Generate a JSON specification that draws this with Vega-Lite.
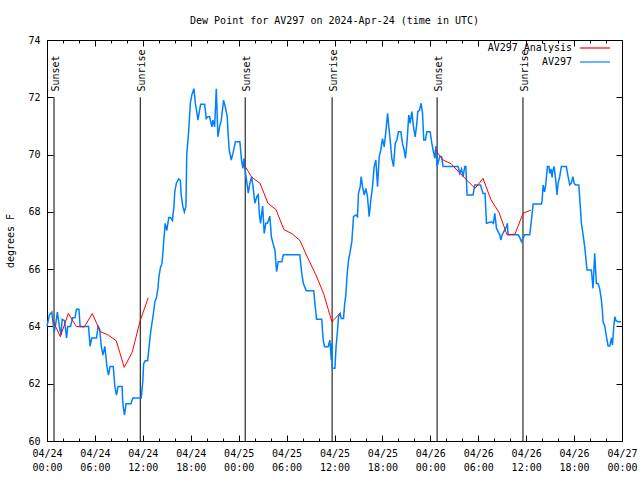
{
  "$schema": "https://vega.github.io/schema/vega-lite/v6.json",
  "width": 575,
  "height": 401,
  "autosize": {"type": "none"},
  "padding": {"left": 47, "top": 40, "right": 18, "bottom": 39},
  "background": "white",
  "title": {"text": "Dew Point for AV297 on 2024-Apr-24 (time in UTC)", "font": "DejaVu Sans Mono", "fontSize": 10, "fontWeight": "normal", "color": "black", "anchor": "middle", "frame": "group", "baseline": "alphabetic", "offset": 1},
  "config": {
    "view": {"stroke": "black", "strokeWidth": 1},
    "axis": {"domain": false, "grid": false, "labelFont": "DejaVu Sans Mono", "labelFontSize": 10, "labelColor": "black", "tickColor": "black", "tickWidth": 1, "titleFont": "DejaVu Sans Mono", "titleFontSize": 10, "titleFontWeight": "normal", "titleColor": "black"},
    "legend": {"labelFont": "DejaVu Sans Mono", "labelFontSize": 10, "labelColor": "black"}
  },
  "datasets": {
    "events": [
      {"hour": 0.88, "label": "Sunset"}, {"hour": 11.68, "label": "Sunrise"},
      {"hour": 24.82, "label": "Sunset"}, {"hour": 35.7, "label": "Sunrise"},
      {"hour": 48.85, "label": "Sunset"}, {"hour": 59.6, "label": "Sunrise"}
    ],
    "analysis": [
      {"hour": 0.67, "dewpoint": 64.25, "seg": 1}, {"hour": 1.67, "dewpoint": 63.64, "seg": 1}, {"hour": 2.67, "dewpoint": 64.45, "seg": 1},
      {"hour": 3.67, "dewpoint": 64.0, "seg": 1}, {"hour": 4.67, "dewpoint": 63.98, "seg": 1}, {"hour": 5.67, "dewpoint": 64.45, "seg": 1},
      {"hour": 6.67, "dewpoint": 63.82, "seg": 1}, {"hour": 7.67, "dewpoint": 63.7, "seg": 1}, {"hour": 8.67, "dewpoint": 63.5, "seg": 1},
      {"hour": 9.67, "dewpoint": 62.57, "seg": 1}, {"hour": 10.67, "dewpoint": 63.1, "seg": 1}, {"hour": 11.67, "dewpoint": 64.2, "seg": 1},
      {"hour": 12.67, "dewpoint": 65.0, "seg": 1},
      {"hour": 24.67, "dewpoint": 69.65, "seg": 2}, {"hour": 25.67, "dewpoint": 69.2, "seg": 2}, {"hour": 26.67, "dewpoint": 69.0, "seg": 2},
      {"hour": 27.67, "dewpoint": 68.3, "seg": 2}, {"hour": 28.67, "dewpoint": 68.08, "seg": 2}, {"hour": 29.67, "dewpoint": 67.38, "seg": 2},
      {"hour": 30.67, "dewpoint": 67.24, "seg": 2}, {"hour": 31.67, "dewpoint": 67.0, "seg": 2}, {"hour": 32.67, "dewpoint": 66.38, "seg": 2},
      {"hour": 33.67, "dewpoint": 65.8, "seg": 2}, {"hour": 34.67, "dewpoint": 65.12, "seg": 2}, {"hour": 35.67, "dewpoint": 64.16, "seg": 2},
      {"hour": 36.67, "dewpoint": 64.46, "seg": 2},
      {"hour": 48.6, "dewpoint": 70.16, "seg": 3}, {"hour": 49.6, "dewpoint": 69.81, "seg": 3}, {"hour": 50.6, "dewpoint": 69.68, "seg": 3},
      {"hour": 51.6, "dewpoint": 69.38, "seg": 3}, {"hour": 52.6, "dewpoint": 69.1, "seg": 3}, {"hour": 53.6, "dewpoint": 68.82, "seg": 3},
      {"hour": 54.6, "dewpoint": 69.17, "seg": 3}, {"hour": 55.6, "dewpoint": 68.42, "seg": 3}, {"hour": 56.6, "dewpoint": 67.98, "seg": 3},
      {"hour": 57.6, "dewpoint": 67.2, "seg": 3}, {"hour": 58.6, "dewpoint": 67.22, "seg": 3}, {"hour": 59.6, "dewpoint": 67.95, "seg": 3},
      {"hour": 60.6, "dewpoint": 68.06, "seg": 3}
    ],
    "observed": [
      {"hour": 0, "dewpoint": 64.0}, {"hour": 0.3, "dewpoint": 64.4}, {"hour": 0.6, "dewpoint": 64.5}, {"hour": 0.9, "dewpoint": 63.8},
      {"hour": 1.1, "dewpoint": 64.1}, {"hour": 1.3, "dewpoint": 64.5}, {"hour": 1.55, "dewpoint": 64.0}, {"hour": 1.75, "dewpoint": 63.7},
      {"hour": 1.9, "dewpoint": 64.25}, {"hour": 2.2, "dewpoint": 64.2}, {"hour": 2.45, "dewpoint": 63.6}, {"hour": 2.6, "dewpoint": 64.0},
      {"hour": 2.95, "dewpoint": 64.0}, {"hour": 3.2, "dewpoint": 64.3}, {"hour": 3.5, "dewpoint": 64.3}, {"hour": 3.7, "dewpoint": 64.6},
      {"hour": 4.0, "dewpoint": 64.6}, {"hour": 4.15, "dewpoint": 64.0}, {"hour": 5.2, "dewpoint": 64.0}, {"hour": 5.4, "dewpoint": 63.3},
      {"hour": 5.6, "dewpoint": 63.6}, {"hour": 6.2, "dewpoint": 63.6}, {"hour": 6.4, "dewpoint": 64.0}, {"hour": 6.6, "dewpoint": 63.9},
      {"hour": 6.8, "dewpoint": 63.3}, {"hour": 7.0, "dewpoint": 63.0}, {"hour": 7.25, "dewpoint": 63.3}, {"hour": 7.5, "dewpoint": 62.6},
      {"hour": 7.7, "dewpoint": 62.3}, {"hour": 7.9, "dewpoint": 62.6}, {"hour": 8.3, "dewpoint": 62.6}, {"hour": 8.5, "dewpoint": 61.9},
      {"hour": 8.7, "dewpoint": 61.6}, {"hour": 8.9, "dewpoint": 61.9}, {"hour": 9.4, "dewpoint": 61.9}, {"hour": 9.5, "dewpoint": 61.3},
      {"hour": 9.7, "dewpoint": 60.9}, {"hour": 9.9, "dewpoint": 61.3}, {"hour": 10.5, "dewpoint": 61.3}, {"hour": 10.75, "dewpoint": 61.5},
      {"hour": 11.8, "dewpoint": 61.5}, {"hour": 12.0, "dewpoint": 62.1}, {"hour": 12.1, "dewpoint": 62.7}, {"hour": 12.3, "dewpoint": 62.8},
      {"hour": 12.6, "dewpoint": 62.8}, {"hour": 12.9, "dewpoint": 63.6}, {"hour": 13.0, "dewpoint": 63.85}, {"hour": 13.3, "dewpoint": 64.4},
      {"hour": 13.5, "dewpoint": 64.85}, {"hour": 13.7, "dewpoint": 65.0}, {"hour": 13.9, "dewpoint": 65.35}, {"hour": 14.0, "dewpoint": 65.7},
      {"hour": 14.2, "dewpoint": 66.05}, {"hour": 14.4, "dewpoint": 66.2}, {"hour": 14.6, "dewpoint": 66.9}, {"hour": 14.8, "dewpoint": 67.6},
      {"hour": 15.0, "dewpoint": 67.35}, {"hour": 15.25, "dewpoint": 67.8}, {"hour": 15.45, "dewpoint": 67.8}, {"hour": 15.7, "dewpoint": 67.7},
      {"hour": 15.9, "dewpoint": 68.2}, {"hour": 16.0, "dewpoint": 68.7}, {"hour": 16.2, "dewpoint": 69.0}, {"hour": 16.5, "dewpoint": 69.15},
      {"hour": 16.7, "dewpoint": 69.1}, {"hour": 16.8, "dewpoint": 68.6}, {"hour": 17.0, "dewpoint": 68.2}, {"hour": 17.2, "dewpoint": 68.0},
      {"hour": 17.4, "dewpoint": 68.2}, {"hour": 17.5, "dewpoint": 70.0}, {"hour": 17.75, "dewpoint": 70.85}, {"hour": 17.95, "dewpoint": 71.8},
      {"hour": 18.15, "dewpoint": 72.1}, {"hour": 18.4, "dewpoint": 72.3}, {"hour": 18.57, "dewpoint": 71.8}, {"hour": 18.78, "dewpoint": 71.44},
      {"hour": 18.9, "dewpoint": 71.2}, {"hour": 19.11, "dewpoint": 71.55}, {"hour": 19.24, "dewpoint": 71.76}, {"hour": 19.74, "dewpoint": 71.76},
      {"hour": 19.94, "dewpoint": 71.26}, {"hour": 20.15, "dewpoint": 71.32}, {"hour": 20.36, "dewpoint": 71.32}, {"hour": 20.65, "dewpoint": 70.97},
      {"hour": 20.78, "dewpoint": 71.2}, {"hour": 20.99, "dewpoint": 70.97}, {"hour": 21.2, "dewpoint": 72.3}, {"hour": 21.4, "dewpoint": 70.62},
      {"hour": 21.61, "dewpoint": 70.97}, {"hour": 21.82, "dewpoint": 71.2}, {"hour": 22.11, "dewpoint": 71.9}, {"hour": 22.32, "dewpoint": 71.67},
      {"hour": 22.57, "dewpoint": 71.32}, {"hour": 22.66, "dewpoint": 70.8}, {"hour": 22.82, "dewpoint": 70.16}, {"hour": 23.07, "dewpoint": 69.81},
      {"hour": 23.28, "dewpoint": 70.04}, {"hour": 23.6, "dewpoint": 70.45}, {"hour": 24.15, "dewpoint": 70.45}, {"hour": 24.36, "dewpoint": 69.8},
      {"hour": 24.53, "dewpoint": 69.52}, {"hour": 24.66, "dewpoint": 69.87}, {"hour": 24.8, "dewpoint": 69.46}, {"hour": 24.99, "dewpoint": 69.11},
      {"hour": 25.2, "dewpoint": 68.65}, {"hour": 25.4, "dewpoint": 68.99}, {"hour": 25.62, "dewpoint": 69.23}, {"hour": 25.8, "dewpoint": 68.88},
      {"hour": 26.03, "dewpoint": 68.3}, {"hour": 26.3, "dewpoint": 68.55}, {"hour": 26.45, "dewpoint": 68.6}, {"hour": 26.6, "dewpoint": 67.9},
      {"hour": 26.74, "dewpoint": 67.6}, {"hour": 27.0, "dewpoint": 68.2}, {"hour": 27.2, "dewpoint": 67.25}, {"hour": 27.4, "dewpoint": 67.6},
      {"hour": 27.6, "dewpoint": 67.6}, {"hour": 27.9, "dewpoint": 67.85}, {"hour": 28.1, "dewpoint": 67.12}, {"hour": 28.3, "dewpoint": 66.9},
      {"hour": 28.54, "dewpoint": 66.67}, {"hour": 28.75, "dewpoint": 65.91}, {"hour": 28.95, "dewpoint": 66.26}, {"hour": 29.4, "dewpoint": 66.26},
      {"hour": 29.6, "dewpoint": 66.5}, {"hour": 31.65, "dewpoint": 66.5}, {"hour": 31.9, "dewpoint": 65.85}, {"hour": 32.1, "dewpoint": 65.5},
      {"hour": 32.46, "dewpoint": 65.25}, {"hour": 33.4, "dewpoint": 65.25}, {"hour": 33.55, "dewpoint": 64.8}, {"hour": 33.75, "dewpoint": 64.25},
      {"hour": 34.4, "dewpoint": 64.25}, {"hour": 34.58, "dewpoint": 63.52}, {"hour": 34.75, "dewpoint": 63.29}, {"hour": 35.2, "dewpoint": 63.29},
      {"hour": 35.42, "dewpoint": 63.52}, {"hour": 35.6, "dewpoint": 62.83}, {"hour": 35.65, "dewpoint": 63.4}, {"hour": 35.72, "dewpoint": 62.55},
      {"hour": 36.05, "dewpoint": 62.54}, {"hour": 36.2, "dewpoint": 63.3}, {"hour": 36.35, "dewpoint": 63.76}, {"hour": 36.5, "dewpoint": 64.34},
      {"hour": 36.71, "dewpoint": 64.45}, {"hour": 36.84, "dewpoint": 64.28}, {"hour": 37.13, "dewpoint": 64.28}, {"hour": 37.26, "dewpoint": 64.75},
      {"hour": 37.42, "dewpoint": 65.09}, {"hour": 37.59, "dewpoint": 65.85}, {"hour": 37.76, "dewpoint": 66.32}, {"hour": 37.96, "dewpoint": 66.61},
      {"hour": 38.17, "dewpoint": 66.96}, {"hour": 38.38, "dewpoint": 67.83}, {"hour": 38.67, "dewpoint": 67.89}, {"hour": 38.88, "dewpoint": 67.83},
      {"hour": 39.0, "dewpoint": 68.64}, {"hour": 39.22, "dewpoint": 68.88}, {"hour": 39.34, "dewpoint": 69.23}, {"hour": 39.51, "dewpoint": 68.88},
      {"hour": 39.72, "dewpoint": 68.59}, {"hour": 39.93, "dewpoint": 68.82}, {"hour": 40.13, "dewpoint": 68.53}, {"hour": 40.34, "dewpoint": 67.83},
      {"hour": 40.55, "dewpoint": 68.41}, {"hour": 40.76, "dewpoint": 68.88}, {"hour": 40.97, "dewpoint": 69.58}, {"hour": 41.18, "dewpoint": 69.81},
      {"hour": 41.39, "dewpoint": 68.88}, {"hour": 41.59, "dewpoint": 69.92}, {"hour": 41.8, "dewpoint": 70.16}, {"hour": 42.01, "dewpoint": 70.56},
      {"hour": 42.22, "dewpoint": 70.27}, {"hour": 42.43, "dewpoint": 70.8}, {"hour": 42.65, "dewpoint": 71.44}, {"hour": 42.8, "dewpoint": 70.97},
      {"hour": 42.97, "dewpoint": 70.51}, {"hour": 43.18, "dewpoint": 69.87}, {"hour": 43.39, "dewpoint": 69.58}, {"hour": 43.6, "dewpoint": 70.39},
      {"hour": 43.81, "dewpoint": 70.51}, {"hour": 44.01, "dewpoint": 70.8}, {"hour": 44.31, "dewpoint": 70.8}, {"hour": 44.51, "dewpoint": 70.39},
      {"hour": 44.72, "dewpoint": 70.16}, {"hour": 44.89, "dewpoint": 69.87}, {"hour": 45.1, "dewpoint": 70.51}, {"hour": 45.3, "dewpoint": 71.38},
      {"hour": 45.47, "dewpoint": 71.09}, {"hour": 45.68, "dewpoint": 71.5}, {"hour": 45.89, "dewpoint": 70.97}, {"hour": 46.1, "dewpoint": 70.62},
      {"hour": 46.31, "dewpoint": 71.09}, {"hour": 46.43, "dewpoint": 71.5}, {"hour": 46.64, "dewpoint": 71.55}, {"hour": 46.85, "dewpoint": 71.79},
      {"hour": 47.02, "dewpoint": 71.44}, {"hour": 47.18, "dewpoint": 70.51}, {"hour": 47.39, "dewpoint": 70.51}, {"hour": 47.56, "dewpoint": 70.8},
      {"hour": 47.98, "dewpoint": 70.8}, {"hour": 48.19, "dewpoint": 70.39}, {"hour": 48.35, "dewpoint": 70.16}, {"hour": 48.56, "dewpoint": 69.87},
      {"hour": 48.7, "dewpoint": 70.3}, {"hour": 48.85, "dewpoint": 69.58}, {"hour": 49.19, "dewpoint": 69.93}, {"hour": 49.4, "dewpoint": 69.93},
      {"hour": 49.6, "dewpoint": 69.58}, {"hour": 51.06, "dewpoint": 69.58}, {"hour": 51.48, "dewpoint": 69.58}, {"hour": 51.69, "dewpoint": 69.34},
      {"hour": 51.9, "dewpoint": 69.5}, {"hour": 52.1, "dewpoint": 69.23}, {"hour": 52.31, "dewpoint": 69.58}, {"hour": 52.45, "dewpoint": 69.58},
      {"hour": 52.6, "dewpoint": 68.59}, {"hour": 53.35, "dewpoint": 68.59}, {"hour": 53.57, "dewpoint": 68.94}, {"hour": 54.28, "dewpoint": 68.94},
      {"hour": 54.6, "dewpoint": 68.64}, {"hour": 54.85, "dewpoint": 68.64}, {"hour": 55.03, "dewpoint": 67.6}, {"hour": 55.66, "dewpoint": 67.65},
      {"hour": 55.9, "dewpoint": 67.6}, {"hour": 56.07, "dewpoint": 67.95}, {"hour": 56.28, "dewpoint": 67.43}, {"hour": 56.5, "dewpoint": 67.3},
      {"hour": 56.7, "dewpoint": 67.2}, {"hour": 56.82, "dewpoint": 67.02}, {"hour": 57.0, "dewpoint": 67.2}, {"hour": 57.32, "dewpoint": 67.37},
      {"hour": 57.53, "dewpoint": 67.48}, {"hour": 57.65, "dewpoint": 67.6}, {"hour": 57.74, "dewpoint": 67.2}, {"hour": 59.0, "dewpoint": 67.2},
      {"hour": 59.2, "dewpoint": 67.1}, {"hour": 59.41, "dewpoint": 66.96}, {"hour": 59.62, "dewpoint": 67.08}, {"hour": 59.82, "dewpoint": 67.2},
      {"hour": 60.45, "dewpoint": 67.2}, {"hour": 60.66, "dewpoint": 67.72}, {"hour": 60.87, "dewpoint": 68.27}, {"hour": 61.92, "dewpoint": 68.27},
      {"hour": 62.0, "dewpoint": 68.4}, {"hour": 62.12, "dewpoint": 68.94}, {"hour": 62.3, "dewpoint": 68.7}, {"hour": 62.45, "dewpoint": 68.94},
      {"hour": 62.66, "dewpoint": 69.58}, {"hour": 62.85, "dewpoint": 69.58}, {"hour": 62.95, "dewpoint": 69.34}, {"hour": 63.1, "dewpoint": 69.5},
      {"hour": 63.25, "dewpoint": 69.2}, {"hour": 63.35, "dewpoint": 69.45}, {"hour": 63.5, "dewpoint": 69.58}, {"hour": 63.7, "dewpoint": 69.1},
      {"hour": 63.87, "dewpoint": 68.59}, {"hour": 64.0, "dewpoint": 69.0}, {"hour": 64.2, "dewpoint": 69.23}, {"hour": 64.41, "dewpoint": 69.58},
      {"hour": 65.03, "dewpoint": 69.58}, {"hour": 65.25, "dewpoint": 69.23}, {"hour": 65.46, "dewpoint": 68.94}, {"hour": 65.65, "dewpoint": 69.0},
      {"hour": 65.85, "dewpoint": 69.23}, {"hour": 66.0, "dewpoint": 69.0}, {"hour": 66.17, "dewpoint": 68.94}, {"hour": 66.59, "dewpoint": 68.94},
      {"hour": 66.75, "dewpoint": 68.3}, {"hour": 66.92, "dewpoint": 67.6}, {"hour": 67.13, "dewpoint": 67.2}, {"hour": 67.33, "dewpoint": 66.78},
      {"hour": 67.46, "dewpoint": 66.43}, {"hour": 67.62, "dewpoint": 65.97}, {"hour": 68.16, "dewpoint": 65.97}, {"hour": 68.28, "dewpoint": 65.62},
      {"hour": 68.37, "dewpoint": 65.33}, {"hour": 68.58, "dewpoint": 66.55}, {"hour": 68.79, "dewpoint": 65.5}, {"hour": 69.0, "dewpoint": 65.5},
      {"hour": 69.2, "dewpoint": 65.33}, {"hour": 69.42, "dewpoint": 64.92}, {"hour": 69.55, "dewpoint": 64.53}, {"hour": 69.63, "dewpoint": 64.16},
      {"hour": 69.85, "dewpoint": 64.0}, {"hour": 70.05, "dewpoint": 63.64}, {"hour": 70.26, "dewpoint": 63.32}, {"hour": 70.47, "dewpoint": 63.32},
      {"hour": 70.68, "dewpoint": 63.6}, {"hour": 70.8, "dewpoint": 63.35}, {"hour": 70.97, "dewpoint": 63.99}, {"hour": 71.1, "dewpoint": 64.34},
      {"hour": 71.25, "dewpoint": 64.2}, {"hour": 71.5, "dewpoint": 64.16}, {"hour": 71.9, "dewpoint": 64.16}
    ]
  },
  "resolve": {"axis": {"x": "independent", "y": "independent"}},
  "layer": [
    {
      "data": {"name": "events"},
      "mark": {"type": "rule", "color": "black", "strokeWidth": 1},
      "encoding": {
        "x": {"field": "hour", "type": "quantitative", "scale": {"domain": [0, 72], "nice": false, "zero": false},
          "axis": {"orient": "bottom", "title": null, "values": [0, 6, 12, 18, 24, 30, 36, 42, 48, 54, 60, 66, 72], "tickSize": -6, "labelPadding": 13, "labelBaseline": "top", "labelLineHeight": 14, "labelFlush": false, "labelOverlap": false, "labelBound": false,
            "labelExpr": "['04/' + (24 + floor(datum.value / 24)), (datum.value % 24 < 10 ? '0' : '') + (datum.value % 24) + ':00']"}},
        "y": {"datum": 60, "type": "quantitative", "scale": {"domain": [60, 74], "nice": false, "zero": false},
          "axis": {"orient": "left", "title": "degrees F", "values": [60, 62, 64, 66, 68, 70, 72, 74], "tickSize": -6, "labelPadding": 13, "labelFlush": false, "labelOverlap": false, "titlePadding": 12}},
        "y2": {"datum": 72}
      }
    },
    {
      "data": {"name": "events"},
      "mark": {"type": "text", "angle": 270, "align": "left", "baseline": "middle", "font": "DejaVu Sans Mono", "fontSize": 10, "color": "black", "dy": 2},
      "encoding": {
        "x": {"field": "hour", "type": "quantitative", "scale": {"domain": [0, 72], "nice": false, "zero": false},
          "axis": {"orient": "top", "title": null, "values": [0, 6, 12, 18, 24, 30, 36, 42, 48, 54, 60, 66, 72], "tickSize": -6, "labels": false}},
        "y": {"datum": 72.2, "type": "quantitative", "scale": {"domain": [60, 74], "nice": false, "zero": false},
          "axis": {"orient": "right", "title": null, "values": [60, 62, 64, 66, 68, 70, 72, 74], "tickSize": -6, "labels": false}},
        "text": {"field": "label"}
      }
    },
    {
      "data": {"name": "observed"},
      "mark": {"type": "line", "strokeWidth": 1.5, "interpolate": "linear"},
      "encoding": {
        "x": {"field": "hour", "type": "quantitative", "scale": {"domain": [0, 72], "nice": false, "zero": false},
          "axis": {"orient": "bottom", "title": null, "values": [2, 4, 8, 10, 14, 16, 20, 22, 26, 28, 32, 34, 38, 40, 44, 46, 50, 52, 56, 58, 62, 64, 68, 70], "tickSize": -3, "labels": false}},
        "y": {"field": "dewpoint", "type": "quantitative", "scale": {"domain": [60, 74], "nice": false, "zero": false}, "axis": null},
        "color": {"datum": "AV297", "scale": {"domain": ["AV297 Analysis", "AV297"], "range": ["#ff0000", "#0080ff"]},
          "legend": {"title": null, "orient": "none", "legendX": 542, "legendY": 2, "padding": 0, "symbolType": "M-3,0H3", "symbolSize": 100, "symbolStrokeWidth": 1.2, "labelAlign": "right", "labelOffset": -29, "rowPadding": 3}}
      }
    },
    {
      "data": {"name": "analysis"},
      "mark": {"type": "line", "strokeWidth": 1, "interpolate": "linear"},
      "encoding": {
        "x": {"field": "hour", "type": "quantitative", "scale": {"domain": [0, 72], "nice": false, "zero": false},
          "axis": {"orient": "top", "title": null, "values": [2, 4, 8, 10, 14, 16, 20, 22, 26, 28, 32, 34, 38, 40, 44, 46, 50, 52, 56, 58, 62, 64, 68, 70], "tickSize": -3, "labels": false}},
        "y": {"field": "dewpoint", "type": "quantitative", "scale": {"domain": [60, 74], "nice": false, "zero": false}, "axis": null},
        "detail": {"field": "seg", "type": "nominal"},
        "color": {"datum": "AV297 Analysis"}
      }
    }
  ]
}
